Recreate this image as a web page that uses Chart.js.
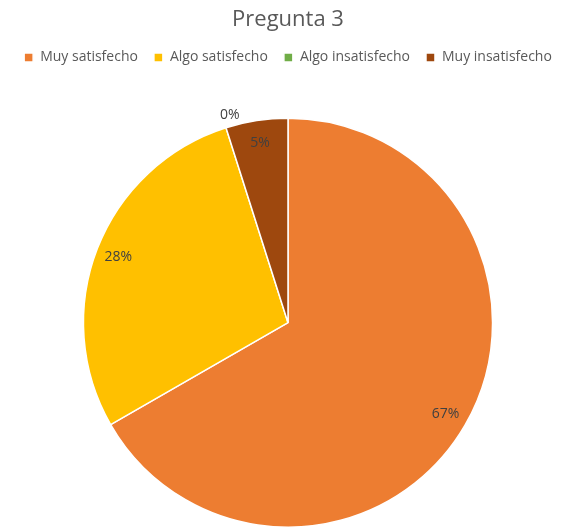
<!DOCTYPE html>
<html>
<head>
<meta charset="utf-8">
<script src="https://cdn.jsdelivr.net/npm/chart.js@4"></script>
<style>
  html, body { margin: 0; padding: 0; background: #fff; }
  #wrap { width: 569px; height: 529px; }
</style>
</head>
<body>
<div id="wrap"><canvas id="pieChart"></canvas></div>
<script>
const categories = ['Muy satisfecho', 'Algo satisfecho', 'Algo insatisfecho', 'Muy insatisfecho'];
const values = [66.7, 28.4, 0, 4.9];
const sliceColors = ['#ED7D31', '#FFC000', '#70AD47', '#9E480E'];

// draws the percent labels on each slice (zero slices go just outside)
const sliceLabels = {
    id: 'sliceLabels',
    afterDatasetsDraw(chart) {
        const ctx = chart.ctx;
        const meta = chart.getDatasetMeta(0);
        ctx.save();
        ctx.font = '14px "Open Sans", sans-serif';
        ctx.fillStyle = '#404040';
        ctx.textAlign = 'center';
        ctx.textBaseline = 'middle';
        meta.data.forEach((arc, i) => {
            const p = arc.getProps(['x', 'y', 'startAngle', 'endAngle', 'outerRadius'], true);
            let mid = (p.startAngle + p.endAngle) / 2;
            let r = p.outerRadius * 0.89;
            if (values[i] === 0) {
                mid += 0.035;
                r = p.outerRadius * 1.055;
            }
            ctx.fillText(Math.round(values[i]) + '%', p.x + Math.cos(mid) * r, p.y + Math.sin(mid) * r);
        });
        ctx.restore();
    }
};

new Chart(document.getElementById('pieChart').getContext('2d'), {
    type: 'pie',
    data: {
        labels: categories,
        datasets: [{
            data: values,
            backgroundColor: sliceColors,
            borderColor: '#ffffff',
            borderWidth: 1.5
        }]
    },
    options: {
        responsive: true,
        maintainAspectRatio: false,
        animation: false,
        layout: { padding: { left: 7, right: 0, top: 0, bottom: 1 } },
        plugins: {
            title: {
                display: true,
                text: 'Pregunta 3',
                color: '#595959',
                font: { family: '"Open Sans", sans-serif', size: 22, weight: 'normal' },
                padding: { top: 7, bottom: 1 }
            },
            // empty subtitle used as a spacer between legend and pie
            subtitle: {
                display: true,
                text: '',
                weight: 500,
                font: { size: 10 },
                padding: { top: 31, bottom: 0 }
            },
            legend: {
                position: 'top',
                labels: {
                    color: '#595959',
                    font: { family: '"Open Sans", sans-serif', size: 14 },
                    boxWidth: 9,
                    boxHeight: 9,
                    padding: 16
                }
            },
            tooltip: { enabled: false }
        }
    },
    plugins: [sliceLabels]
});
</script>
</body>
</html>
